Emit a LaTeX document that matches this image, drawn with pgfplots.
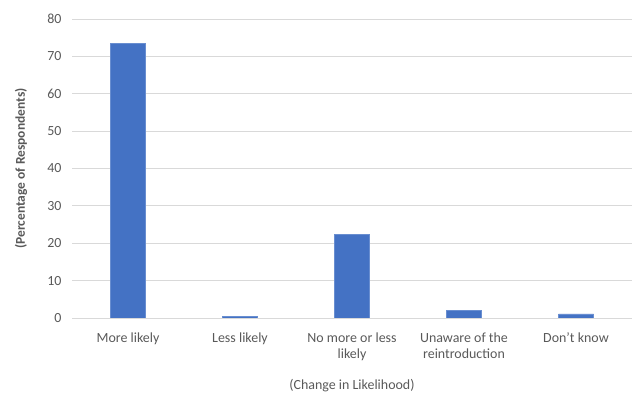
\documentclass[border=0pt]{standalone}
\usepackage{pgfplots}
\pgfplotsset{compat=1.18}
\usepackage{fontspec}
\setmainfont{Carlito}
\definecolor{barblue}{HTML}{4472C4}
\definecolor{txtgray}{HTML}{595959}
\definecolor{gridgray}{HTML}{D9D9D9}
\begin{document}
\begin{tikzpicture}
\path[use as bounding box] (0,0) rectangle (637bp,399bp);
\begin{axis}[
  at={(72bp,81bp)}, anchor=south west,
  scale only axis,
  width=560bp, height=299bp,
  xmin=-0.5, xmax=4.5,
  ymin=0, ymax=80,
  ytick={0,10,...,80},
  xtick={0,1,2,3,4},
  xticklabels={More likely,Less likely,{No more or less\\likely},{Unaware of the\\reintroduction},Don't know},
  xticklabel style={align=center, text=txtgray, font=\fontsize{14}{16.5}\selectfont, yshift=-11bp},
  yticklabel style={text=txtgray, font=\fontsize{14}{16}\selectfont, xshift=-7bp},
  /pgf/number format/assume math mode=true,
  ymajorgrids, grid style={gridgray, line width=1bp},
  axis line style={draw=none},
  major tick style={draw=none},
  ylabel={(Percentage of Respondents)},
  xlabel={(Change in Likelihood)},
  ylabel style={at={(axis description cs:-0.091,0.5)}, anchor=center, text=txtgray, font=\bfseries\fontsize{13.5}{16}\selectfont},
  xlabel style={text=txtgray, font=\fontsize{14}{16}\selectfont, yshift=-12bp},
]
\addplot[ybar, bar width=35bp, fill=barblue, draw=barblue!80!white, line width=0.6bp] coordinates {(0,73.5) (1,0.4) (2,22.4) (3,2.1) (4,1.1)};
\end{axis}
\end{tikzpicture}
\end{document}
